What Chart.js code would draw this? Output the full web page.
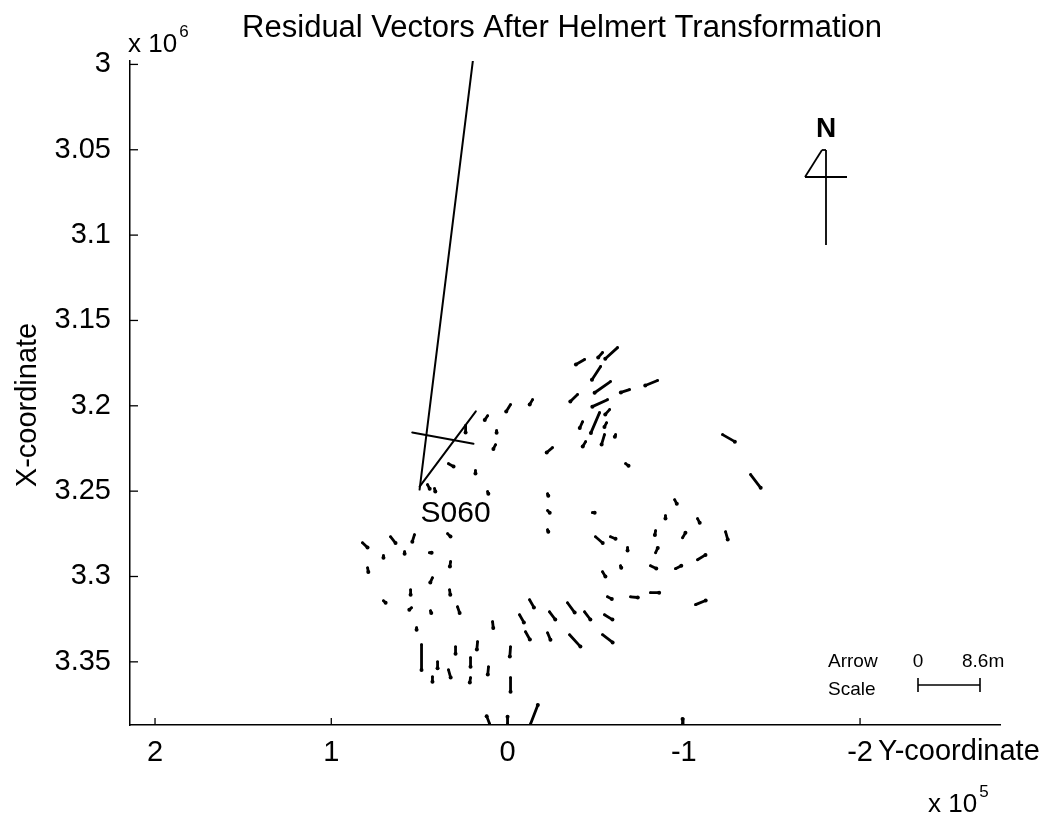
<!DOCTYPE html>
<html>
<head>
<meta charset="utf-8">
<script src="https://cdn.jsdelivr.net/npm/chart.js@4.4.1/dist/chart.umd.min.js"></script>
<style>
  html, body { margin: 0; padding: 0; background: #fff; }
  #wrap { width: 1045px; height: 815px; }
</style>
</head>
<body>
<div id="wrap"><canvas id="residual-chart" width="1045" height="815"></canvas></div>
<script>
// Station coordinates (m): Y-coordinate is horizontal, X-coordinate vertical
var stationY = [
    49900, 49900, 19300, -43700, -53900, -62400, -52800, -58400, -69200, -85100,
    -39700, -56700, -57900, -52200, -42600, -56200, -61300, -55000, -44300, -67000,
    -25500, -122000, -137900, 23800, 11300, 6200, 6800, -1700, -14200, 33500,
    18200, 45400, 41400, 11300, -22700, -22700, -22700, -48200, -89600, -94800,
    -84000, 82300, 66400, 52800, 34000, 70400, 58400, 44300, 79400, 32300,
    42600, 55000, 32900, 70400, 54500, 43700, 28400, 51600, 48800, 39700,
    42600, 33500, 29500, 17000, 21000, 21000, 10800, 8500, -1700, -1700,
    -6800, -12500, -10200, -22700, -23800, -34000, -35200, -43700, -55000, -53900,
    -49900, -58400, -68100, -53900, -64100, -81100, -84000, -95300, -99300, -107800,
    -123700, -56700, -69800, -81100, -106700, -107800, 10200, 0, -13100, -99300
];
var stationX = [
    3249100, 3247400, 3222200, 3172900, 3168800, 3165900, 3177000, 3185800, 3190500, 3185200,
    3193400, 3196400, 3202200, 3204000, 3209300, 3209900, 3216900, 3216900, 3221000, 3233900,
    3224500, 3216900, 3240300, 3211600, 3205800, 3214500, 3222800, 3199300, 3196400, 3233900,
    3238000, 3246200, 3248500, 3250300, 3251500, 3261400, 3272600, 3262600, 3264400, 3255000,
    3273200, 3280200, 3276700, 3275500, 3274900, 3287800, 3285500, 3286100, 3294900, 3291300,
    3300700, 3307800, 3307800, 3314200, 3318300, 3320100, 3317700, 3330000, 3340000, 3350000,
    3358800, 3354700, 3341200, 3338200, 3347600, 3359300, 3352900, 3326500, 3341200, 3359300,
    3322400, 3313600, 3332400, 3333000, 3320700, 3315400, 3334100, 3320700, 3322400, 3334100,
    3276700, 3276700, 3283100, 3297200, 3293700, 3293700, 3286100, 3295400, 3277300, 3290200,
    3273800, 3311900, 3311900, 3309500, 3316500, 3266100, 3386300, 3386300, 3386300, 3386300
];
// Residuals after the Helmert transformation (m)
var residualY = [
    -7.4, -7.8, 8.5, 1.2, 0.6, 1.7, 1.2, 2.2, 1.2, 1.7,
    1.0, 2.1, 0.6, 1.2, 0.4, 0.3, 0.1, 0.4, 0.4, -0.4,
    0.8, -1.7, -1.4, 0, 0.4, 0, 0.3, 0.6, 0.4, -0.7,
    0, -0.3, -0.1, -0.1, -0.1, -0.3, -0.1, -0.3, 0, -0.3,
    0.1, -0.7, -0.7, 0.3, -0.4, 0, 0, -0.3, -0.1, 0.1,
    0.3, 0, -0.1, -0.3, 0.3, -0.1, -0.3, 0, 0, 0,
    0, -0.3, 0, 0.1, 0, 0.1, 0.1, -0.1, 0.1, 0,
    -0.6, -0.6, -0.6, -0.4, -0.8, -1.0, -1.5, -0.8, -1.1, -1.4,
    -1.0, -0.7, 0, -0.4, -0.1, -0.8, -0.3, -0.8, -0.4, -1.1,
    -0.3, -0.6, -1.0, -1.2, -1.4, -0.3, 0.4, 0, -1.0, 0
];
var residualX = [
    -61.5, -10.8, -1.6, 0.7, 0.7, 1.6, 1.9, 1.6, 0.4, 0.7,
    1.0, 1.0, 0.7, 2.9, 0.9, 0.6, 0.3, 1.4, 0.7, 0.3,
    0.7, 1.0, 1.9, 1.0, 0.6, 0.3, 0.6, 1.0, 0.7, 0.4,
    0.4, 0.6, 0.4, 0.3, 0.3, 0.3, 0.3, 0, 0.4, 0.6,
    0.6, 0.7, 0.9, 1.0, 0.4, 0.3, 0.3, 0, 0.6, 0.7,
    0.7, 0.7, 0.7, 0.3, 0.3, 0.3, 0.9, 0.3, 3.6, 0.9,
    0.7, 1.1, 1.0, 1.1, 1.3, 0.7, 1.1, 0.9, 1.4, 2.0,
    1.1, 1.1, 1.1, 1.0, 1.1, 1.4, 1.7, 1.1, 0.7, 1.1,
    0.9, 0.3, 0.4, 0.7, 0.3, 0.4, -0.7, -0.4, -0.7, -0.7,
    1.1, 0.3, 0.1, 0, -0.6, 0.6, -1.1, -1.0, -2.7, -0.7
];
var labelledStation = { index: 0, name: 'S060' };

var yCoordTicks = [200000, 100000, 0, -100000, -200000];
var xCoordTicks = [3000000, 3050000, 3100000, 3150000, 3200000, 3250000, 3300000, 3350000];

var ARROW_SCALE = 4090;     // map metres drawn per metre of residual
var SCALE_BAR_M = 8.6;
var FONT = '"Liberation Sans", Arial, sans-serif';

var datasets = stationY.map(function(y, i) {
    var big = i < 3;
    return {
        data: [
            { x: y, y: stationX[i] },
            { x: y + residualY[i] * ARROW_SCALE, y: stationX[i] + residualX[i] * ARROW_SCALE }
        ],
        showLine: true,
        borderColor: '#000',
        backgroundColor: '#000',
        borderWidth: big ? 2 : 2.8,
        borderCapStyle: 'round',
        pointRadius: [big ? 0 : 1.3, big ? 0 : 2],
        pointBorderWidth: 0
    };
});

function line(ctx, x1, y1, x2, y2) {
    ctx.beginPath();
    ctx.moveTo(x1, y1);
    ctx.lineTo(x2, y2);
    ctx.stroke();
}

// Write "x 10" with a superscript exponent
function powerLabel(ctx, x, y, exp) {
    ctx.font = '26px ' + FONT;
    ctx.textAlign = 'left';
    ctx.textBaseline = 'alphabetic';
    ctx.fillText('x 10', x, y);
    var w = ctx.measureText('x 10').width;
    ctx.font = '17px ' + FONT;
    ctx.fillText(exp, x + w + 2, y - 15);
}

var decorPlugin = {
    id: 'decor',
    afterDraw: function(chart) {
        var ctx = chart.ctx, area = chart.chartArea;
        var xs = chart.scales.x, ys = chart.scales.y;
        ctx.save();
        ctx.strokeStyle = '#000';
        ctx.fillStyle = '#000';
        ctx.lineWidth = 1.3;

        // inward tick marks
        yCoordTicks.forEach(function(v) {
            var px = xs.getPixelForValue(v);
            line(ctx, px, area.bottom, px, area.bottom - 7);
        });
        xCoordTicks.forEach(function(v) {
            var py = ys.getPixelForValue(v);
            line(ctx, area.left, py, area.left + 8, py);
        });

        // title
        ctx.font = '31px ' + FONT;
        ctx.textAlign = 'center';
        ctx.textBaseline = 'middle';
        ctx.fillText('Residual Vectors After Helmert Transformation', 562, 28);

        powerLabel(ctx, 128, 52, '6');
        powerLabel(ctx, 928, 812, '5');

        // axis titles
        ctx.font = '29px ' + FONT;
        ctx.textAlign = 'left';
        ctx.textBaseline = 'middle';
        ctx.fillText('Y-coordinate', 878, 752);
        ctx.save();
        ctx.translate(28, 405);
        ctx.rotate(-Math.PI / 2);
        ctx.textAlign = 'center';
        ctx.fillText('X-coordinate', 0, 0);
        ctx.restore();

        // station label
        var si = labelledStation.index;
        var sx = xs.getPixelForValue(stationY[si]);
        var sy = ys.getPixelForValue(stationX[si]);
        ctx.font = '30px ' + FONT;
        ctx.textAlign = 'left';
        ctx.textBaseline = 'middle';
        ctx.fillText(labelledStation.name, sx + 1, sy + 24);

        // north arrow
        var nx = area.left + 696, ny = area.top + 116;
        ctx.font = 'bold 28px ' + FONT;
        ctx.textAlign = 'center';
        ctx.fillText('N', nx, ny - 48);
        ctx.lineWidth = 1.8;
        line(ctx, nx, ny - 27, nx, ny + 68);
        line(ctx, nx - 21, ny, nx + 21, ny);
        line(ctx, nx - 21, ny, nx - 4, ny - 27);
        line(ctx, nx - 4, ny - 27, nx, ny - 27);

        // arrow scale bar
        var bx = area.right - 82, by = area.bottom - 40;
        var barLen = Math.abs(xs.getPixelForValue(0) - xs.getPixelForValue(SCALE_BAR_M * ARROW_SCALE));
        ctx.lineWidth = 1.6;
        line(ctx, bx, by, bx + barLen, by);
        line(ctx, bx, by - 7, bx, by + 7);
        line(ctx, bx + barLen, by - 7, bx + barLen, by + 7);
        ctx.font = '19px ' + FONT;
        ctx.textBaseline = 'alphabetic';
        ctx.textAlign = 'left';
        ctx.fillText('Arrow', bx - 90, by - 18);
        ctx.fillText('Scale', bx - 90, by + 10);
        ctx.textAlign = 'center';
        ctx.fillText('0', bx, by - 18);
        ctx.textAlign = 'left';
        ctx.fillText(SCALE_BAR_M + 'm', bx + 44, by - 18);

        ctx.restore();
    }
};

new Chart(document.getElementById('residual-chart'), {
    type: 'scatter',
    data: { datasets: datasets },
    options: {
        responsive: false,
        animation: false,
        layout: { padding: { left: 0, right: 45, top: 61, bottom: 0 } },
        plugins: {
            legend: { display: false },
            tooltip: { enabled: false },
            title: { display: false }
        },
        scales: {
            x: {
                type: 'linear',
                reverse: true,
                min: -279400,
                max: 214200,
                afterBuildTicks: function(axis) {
                    axis.ticks = yCoordTicks.map(function(v) { return { value: v }; });
                },
                afterFit: function(axis) { axis.height = 90; },
                grid: { drawOnChartArea: false, drawTicks: false },
                border: { display: true, color: '#000', width: 1.5 },
                ticks: {
                    color: '#000',
                    autoSkip: false,
                    maxRotation: 0,
                    padding: 11,
                    font: { family: FONT, size: 29 },
                    callback: function(v) { return String(Math.round(v / 1e3) / 100); }
                }
            },
            y: {
                type: 'linear',
                reverse: true,
                min: 2998000,
                max: 3387000,
                afterBuildTicks: function(axis) {
                    axis.ticks = xCoordTicks.map(function(v) { return { value: v }; });
                },
                afterFit: function(axis) { axis.width = 130; },
                grid: { drawOnChartArea: false, drawTicks: false },
                border: { display: true, color: '#000', width: 1.5 },
                ticks: {
                    color: '#000',
                    autoSkip: false,
                    padding: 19,
                    font: { family: FONT, size: 29 },
                    callback: function(v) { return String(Math.round(v / 1e3) / 1000); }
                }
            }
        }
    },
    plugins: [decorPlugin]
});
</script>
</body>
</html>
